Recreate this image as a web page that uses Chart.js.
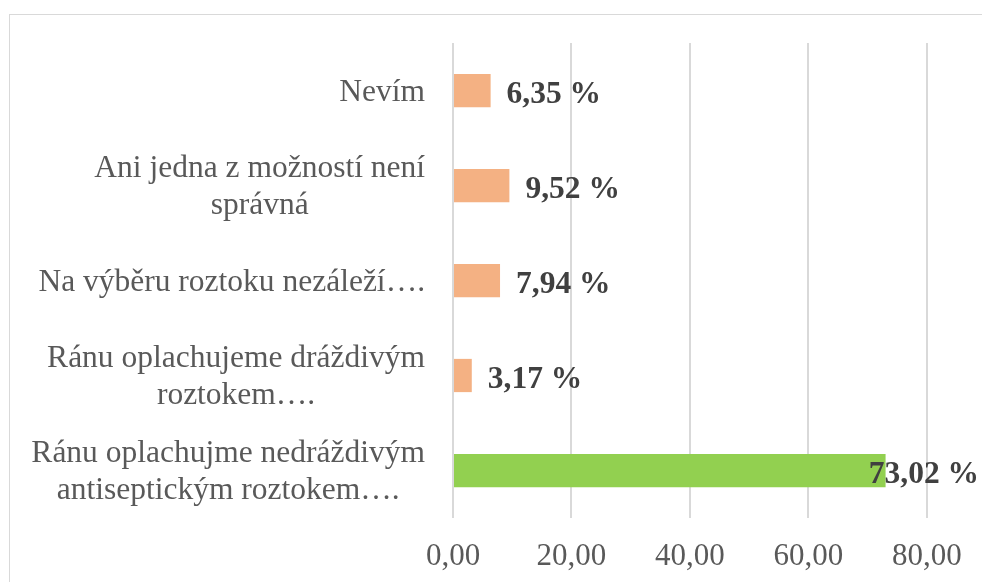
<!DOCTYPE html>
<html>
<head>
<meta charset="utf-8">
<script src="https://cdn.jsdelivr.net/npm/chart.js@4/dist/chart.umd.min.js"></script>
<style>
	html, body { margin: 0; padding: 0; overflow: hidden; background: #fff; }
	#frame { position: absolute; left: 9px; top: 14px; width: 1000px; height: 600px;
		border-left: 1px solid #d9d9d9; border-top: 1px solid #d9d9d9; }
	#box { position: absolute; left: 0; top: 0; width: 982px; height: 582px; }
</style>
</head>
<body>
<div id="frame"></div>
<div id="box"><canvas id="barCanvas"></canvas></div>
<script>
// answers (top to bottom) and their share in %
var categories = [
	['Nevím'],
	['Ani jedna z možností není', 'správná'],
	['Na výběru roztoku nezáleží….'],
	['Ránu oplachujeme dráždivým', 'roztokem….'],
	['Ránu oplachujme nedráždivým', 'antiseptickým roztokem….']
];
var values = [6.35, 9.52, 7.94, 3.17, 73.02];
var colors = ['#F4B183', '#F4B183', '#F4B183', '#F4B183', '#92D050'];
var xTicks = [0, 20, 40, 60, 80];

var serif = "'Liberation Serif', 'Times New Roman', serif";

function fmt(v) {
	return v.toFixed(2).replace('.', ',');
}

// category labels: block right aligned, lines centered inside the block
var catLabels = {
	id: 'catLabels',
	afterDraw: function(chart) {
		var ctx = chart.ctx;
		var yScale = chart.scales.y;
		var right = chart.chartArea.left - 28;
		ctx.save();
		ctx.font = '31.5px ' + serif;
		ctx.fillStyle = '#595959';
		ctx.textAlign = 'center';
		ctx.textBaseline = 'alphabetic';
		for (var i = 0; i < categories.length; i++) {
			var lines = categories[i];
			var w = 0;
			for (var j = 0; j < lines.length; j++) {
				w = Math.max(w, ctx.measureText(lines[j]).width);
			}
			var cx = right - w / 2;
			var cy = yScale.getPixelForTick(i);
			for (var j = 0; j < lines.length; j++) {
				ctx.fillText(lines[j], cx, cy + 10 + (j - (lines.length - 1) / 2) * 37);
			}
		}
		ctx.restore();
	}
};

// value labels at the end of the bars
var valueLabels = {
	id: 'valueLabels',
	afterDatasetsDraw: function(chart) {
		var ctx = chart.ctx;
		var meta = chart.getDatasetMeta(0);
		ctx.save();
		ctx.font = 'bold 31.5px ' + serif;
		ctx.fillStyle = '#404040';
		ctx.textAlign = 'left';
		ctx.textBaseline = 'alphabetic';
		for (var i = 0; i < meta.data.length; i++) {
			var bar = meta.data[i];
			var txt = fmt(values[i]) + ' %';
			var w = ctx.measureText(txt).width;
			var x = bar.x + 16;
			if (x + w > chart.chartArea.right) {
				x = chart.chartArea.right - w;
			}
			ctx.fillText(txt, x, bar.y + 12.5);
		}
		ctx.restore();
	}
};

var chartdata = {
	labels: categories,
	datasets: [
		{
			label: 'Odpovědi',
			data: values,
			backgroundColor: colors,
			borderWidth: 0,
			barPercentage: 0.35,
			categoryPercentage: 1
		}
	]
};

var ctx = document.getElementById('barCanvas');
var barGraph = new Chart(ctx, {
	type: 'bar',
	data: chartdata,
	plugins: [catLabels, valueLabels],
	options: {
		indexAxis: 'y',
		responsive: true,
		maintainAspectRatio: false,
		animation: false,
		layout: { padding: { top: 43, right: 2, left: 0, bottom: 0 } },
		plugins: {
			legend: { display: false },
			tooltip: { enabled: false }
		},
		scales: {
			x: {
				min: 0,
				max: 88.8,
				border: { display: false },
				grid: { color: '#d9d9d9', lineWidth: 2, drawTicks: false },
				afterBuildTicks: function(scale) {
					scale.ticks = xTicks.map(function(v) { return { value: v }; });
				},
				afterFit: function(scale) { scale.height = 64; },
				ticks: {
					padding: 20,
					color: '#595959',
					font: { family: serif, size: 31 },
					callback: function(v) { return fmt(v); }
				}
			},
			y: {
				border: { display: false },
				grid: { display: false },
				afterFit: function(scale) { scale.width = 453; },
				ticks: { display: false }
			}
		}
	}
});
</script>
</body>
</html>
